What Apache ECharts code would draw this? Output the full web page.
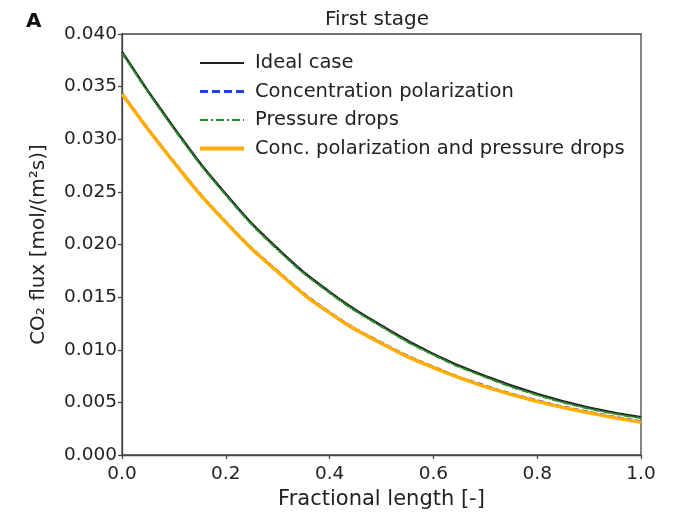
<!DOCTYPE html>
<html>
<head>
<meta charset="utf-8">
<script src="https://cdn.jsdelivr.net/npm/echarts@6/dist/echarts.min.js"></script>
<style>
html,body{margin:0;padding:0;background:#fff;}
#chart{width:679px;height:519px;}
</style>
</head>
<body>
<div id="chart"></div>
<script>
const xValues = [0, 0.1, 0.2, 0.3, 0.4, 0.5, 0.6, 0.7, 0.8, 0.9, 1.0];
const idealCase = [0.0383, 0.0311, 0.0248, 0.0196, 0.0155, 0.0123, 0.0096, 0.0075, 0.0058, 0.0045, 0.0036];
const concPolarization = [0.0344, 0.0279, 0.0222, 0.0175, 0.0136, 0.0107, 0.0084, 0.0066, 0.0052, 0.0041, 0.0032];
const pressureDrops = [0.0382, 0.0310, 0.0247, 0.0195, 0.0154, 0.0122, 0.0095, 0.0074, 0.0057, 0.0044, 0.0035];
const concPolAndPressure = [0.0343, 0.0278, 0.0221, 0.0174, 0.0135, 0.0106, 0.0083, 0.0065, 0.0051, 0.0040, 0.0031];
const seriesNames = ['Ideal case', 'Concentration polarization', 'Pressure drops', 'Conc. polarization and pressure drops'];
const xTicks = [0, 0.2, 0.4, 0.6, 0.8, 1.0];
const yTicks = [0, 0.005, 0.01, 0.015, 0.02, 0.025, 0.03, 0.035, 0.04];

function pairs(ys){ return xValues.map((x,i)=>[x, ys[i]]); }

const font = 'DejaVu Sans';
const txt = '#222';
const chart = echarts.init(document.getElementById('chart'), null, {renderer:'canvas'});
chart.setOption({
  backgroundColor:'#fff',
  animation:false,
  title:[
    {text:'First stage', left:372, top:5, textAlign:'center',
     textStyle:{fontFamily:font, fontSize:20, fontWeight:'normal', color:txt}},
    {text:'A', left:21, top:7,
     textStyle:{fontFamily:font, fontSize:20, fontWeight:'bold', color:'#111'}}
  ],
  grid:{left:122, right:38, top:34, bottom:64, show:true, borderColor:'#444', borderWidth:1.3},
  legend:{
    orient:'vertical', left:193, top:47, itemWidth:44, itemHeight:14, itemGap:6.5,
    itemStyle:{opacity:0},
    textStyle:{fontFamily:font, fontSize:19.5, color:txt, padding:[0,0,0,6], lineHeight:22},
    data:[
      {name:seriesNames[0], lineStyle:{width:1.8}},
      {name:seriesNames[1], lineStyle:{width:3, type:[8,4]}},
      {name:seriesNames[2], lineStyle:{width:2, type:[8,3,2,3]}},
      {name:seriesNames[3], lineStyle:{width:4}}
    ]
  },
  xAxis:{
    type:'value', min:0, max:1, interval:0.2,
    name:'Fractional length [-]', nameLocation:'middle', nameGap:29,
    nameTextStyle:{fontFamily:font, fontSize:21, color:txt},
    axisLine:{lineStyle:{color:'#444', width:1.3}},
    axisTick:{show:true, length:4, lineStyle:{color:'#444', width:1.3}},
    axisLabel:{fontFamily:font, fontSize:18.5, color:txt, margin:10,
      formatter:v=>v.toFixed(1)},
    splitLine:{show:false}
  },
  yAxis:{
    type:'value', min:0, max:0.04, interval:0.005,
    name:'CO\u2082 flux [mol/(m\u00B2s)]', nameLocation:'middle', nameGap:73,
    nameTextStyle:{fontFamily:font, fontSize:20, color:txt},
    axisLine:{show:true, lineStyle:{color:'#444', width:1.3}},
    axisTick:{show:true, length:4, lineStyle:{color:'#444', width:1.3}},
    axisLabel:{fontFamily:font, fontSize:18.5, color:txt, margin:5,
      formatter:v=>v.toFixed(3)},
    splitLine:{show:false}
  },
  series:[
    {name:seriesNames[0], type:'line', data:pairs(idealCase), smooth:true, showSymbol:false, symbol:'none',
     lineStyle:{color:'#222', width:2.4}, itemStyle:{color:'#222'}, z:2},
    {name:seriesNames[1], type:'line', data:pairs(concPolarization), smooth:true, showSymbol:false, symbol:'none',
     lineStyle:{color:'#1f3fe0', width:2, type:[6,3]}, itemStyle:{color:'#1f3fe0'}, z:3},
    {name:seriesNames[2], type:'line', data:pairs(pressureDrops), smooth:true, showSymbol:false, symbol:'none',
     lineStyle:{color:'#2a8a2a', width:2, type:[7,1,1.5,1]}, itemStyle:{color:'#2a8a2a'}, z:4},
    {name:seriesNames[3], type:'line', data:pairs(concPolAndPressure), smooth:true, showSymbol:false, symbol:'none',
     lineStyle:{color:'#ffad00', width:3.5}, itemStyle:{color:'#ffad00'}, z:5}
  ]
});
</script>
</body>
</html>
